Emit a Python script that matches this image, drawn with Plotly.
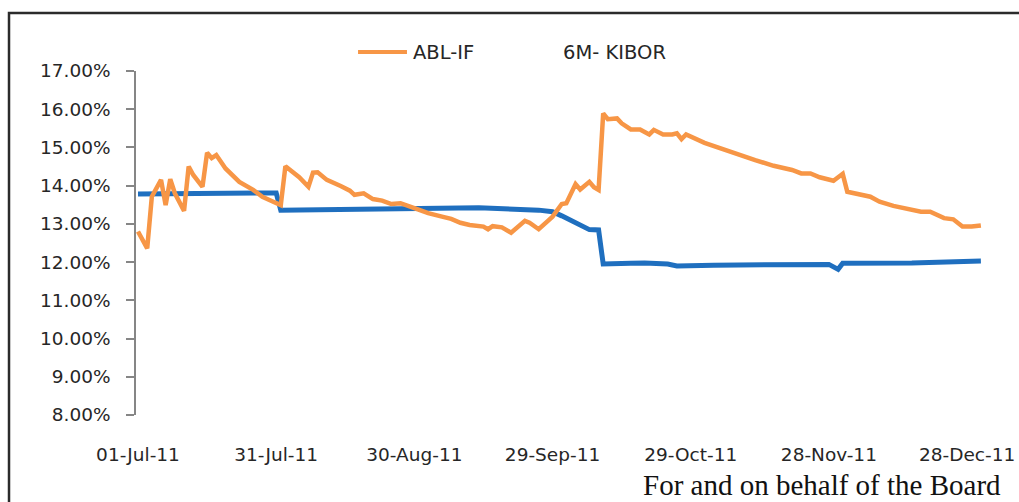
import plotly.graph_objects as go

# ABL-IF series
abl_dates = [
    "2011-07-01", "2011-07-03", "2011-07-04", "2011-07-06", "2011-07-07", "2011-07-08",
    "2011-07-09", "2011-07-11", "2011-07-12", "2011-07-13", "2011-07-15", "2011-07-16",
    "2011-07-17", "2011-07-18", "2011-07-20", "2011-07-23", "2011-07-26", "2011-07-28",
    "2011-07-30", "2011-08-01", "2011-08-02", "2011-08-03", "2011-08-05", "2011-08-07",
    "2011-08-08", "2011-08-09", "2011-08-11", "2011-08-14", "2011-08-16", "2011-08-17",
    "2011-08-19", "2011-08-21", "2011-08-23", "2011-08-25", "2011-08-27", "2011-08-30",
    "2011-09-02", "2011-09-05", "2011-09-07", "2011-09-09", "2011-09-11", "2011-09-14",
    "2011-09-15", "2011-09-16", "2011-09-18", "2011-09-20", "2011-09-23", "2011-09-24",
    "2011-09-26", "2011-09-28", "2011-09-29", "2011-10-01", "2011-10-02", "2011-10-04",
    "2011-10-05", "2011-10-07", "2011-10-08", "2011-10-09", "2011-10-10", "2011-10-11",
    "2011-10-13", "2011-10-14", "2011-10-16", "2011-10-18", "2011-10-20", "2011-10-21",
    "2011-10-23", "2011-10-25", "2011-10-26", "2011-10-27", "2011-10-28", "2011-11-01",
    "2011-11-05", "2011-11-10", "2011-11-12", "2011-11-16", "2011-11-17", "2011-11-20",
    "2011-11-22", "2011-11-24", "2011-11-26", "2011-11-29", "2011-12-01", "2011-12-02",
    "2011-12-07", "2011-12-09", "2011-12-12", "2011-12-15", "2011-12-18", "2011-12-20",
    "2011-12-23", "2011-12-25", "2011-12-27", "2011-12-29", "2011-12-31",
]
abl_values = [
    12.80, 12.36, 13.71, 14.15, 13.49, 14.17,
    13.80, 13.34, 14.50, 14.28, 13.97, 14.86,
    14.72, 14.80, 14.45, 14.10, 13.89, 13.71,
    13.60, 13.49, 14.51, 14.41, 14.22, 13.97,
    14.34, 14.35, 14.15, 13.99, 13.87, 13.76,
    13.80, 13.65, 13.61, 13.52, 13.54, 13.41,
    13.28, 13.19, 13.13, 13.03, 12.97, 12.93,
    12.86, 12.94, 12.91, 12.77, 13.08, 13.03,
    12.86, 13.08, 13.19, 13.52, 13.54, 14.04,
    13.90, 14.10, 13.96, 13.89, 15.89, 15.74,
    15.76, 15.63, 15.47, 15.47, 15.34, 15.46,
    15.34, 15.34, 15.37, 15.22, 15.34, 15.12,
    14.95, 14.76, 14.67, 14.52, 14.50, 14.41,
    14.32, 14.32, 14.22, 14.13, 14.31, 13.84,
    13.71, 13.58, 13.47, 13.38, 13.32, 13.32,
    13.15, 13.12, 12.93, 12.93, 12.96,
]

# 6M- KIBOR series
kibor_dates = [
    "2011-07-01", "2011-07-15", "2011-07-31", "2011-08-01", "2011-08-15", "2011-09-01",
    "2011-09-13", "2011-09-26", "2011-09-29", "2011-10-01", "2011-10-05", "2011-10-07",
    "2011-10-09", "2011-10-10", "2011-10-16", "2011-10-19", "2011-10-24", "2011-10-26",
    "2011-11-03", "2011-11-17", "2011-11-28", "2011-11-30", "2011-12-01", "2011-12-16",
    "2011-12-31",
]
kibor_values = [
    13.78, 13.80, 13.81, 13.36, 13.37, 13.38,
    13.42, 13.36, 13.32, 13.21, 12.97, 12.85,
    12.84, 11.95, 11.97, 11.98, 11.95, 11.90,
    11.92, 11.94, 11.94, 11.81, 11.97, 11.98,
    12.03,
]

series_names = ["ABL-IF", "6M- KIBOR"]
footer_text = "For and on behalf of the Board"

ORANGE = "#f79646"
BLUE = "#1f6fbf"
TEXT = "#262626"
AXIS = "#868686"

fig = go.Figure()
fig.add_trace(go.Scatter(x=kibor_dates, y=kibor_values, mode="lines", name=series_names[1],
                         line=dict(color=BLUE, width=5), showlegend=False))
fig.add_trace(go.Scatter(x=abl_dates, y=abl_values, mode="lines", name=series_names[0],
                         line=dict(color=ORANGE, width=4.5), showlegend=False))

fig.update_layout(
    width=1019, height=502,
    margin=dict(l=136, r=29, t=71, b=87, autoexpand=False),
    paper_bgcolor="white", plot_bgcolor="white",
    font=dict(family="DejaVu Sans", size=18.5, color=TEXT),
    xaxis=dict(
        type="date", automargin=False,
        range=["2011-06-30 13:35", "2012-01-01 23:30"],
        tick0="2011-07-01", dtick=30 * 86400000,
        tickformat="%d-%b-%y",
        showgrid=False, zeroline=False, showline=False, ticks="",
        ticklabelstandoff=26,
    ),
    yaxis=dict(
        automargin=False,
        range=[8, 17], dtick=1, tickformat=".2f", ticksuffix="%",
        showgrid=False, zeroline=False,
        showline=True, linecolor=AXIS, linewidth=1.5,
        ticks="outside", ticklen=8, tickcolor=AXIS, tickwidth=1.5,
        ticklabelstandoff=12,
    ),
)

# chart border (extends past the right/bottom of the image)
fig.add_shape(type="rect", xref="paper", yref="paper",
              x0=-0.1487, x1=1.06, y0=-0.35, y1=1.1686,
              line=dict(color="#2b2b2b", width=2.5), fillcolor="rgba(0,0,0,0)")

# legend (orange swatch only, as in the reference)
fig.add_shape(type="line", xref="paper", yref="paper",
              x0=0.260, x1=0.3173, y0=1.0552, y1=1.0552,
              line=dict(color=ORANGE, width=4))
fig.add_annotation(xref="paper", yref="paper", x=0.3215, y=1.0552,
                   xanchor="left", yanchor="middle", showarrow=False,
                   text=series_names[0], font=dict(size=19.5, color=TEXT))
fig.add_annotation(xref="paper", yref="paper", x=0.4975, y=1.0552,
                   xanchor="left", yanchor="middle", showarrow=False,
                   text=series_names[1], font=dict(size=19.5, color=TEXT))

# footer text
fig.add_annotation(xref="paper", yref="paper", x=0.591, y=-0.2555,
                   xanchor="left", yanchor="bottom", showarrow=False,
                   text=footer_text,
                   font=dict(family="Liberation Serif", size=29, color="#111111"))

fig.write_html(
    "out.html",
    config={"displayModeBar": False},
    post_script="document.body.style.margin='0';document.body.style.padding='0';"
                "document.documentElement.style.overflow='hidden';",
)
